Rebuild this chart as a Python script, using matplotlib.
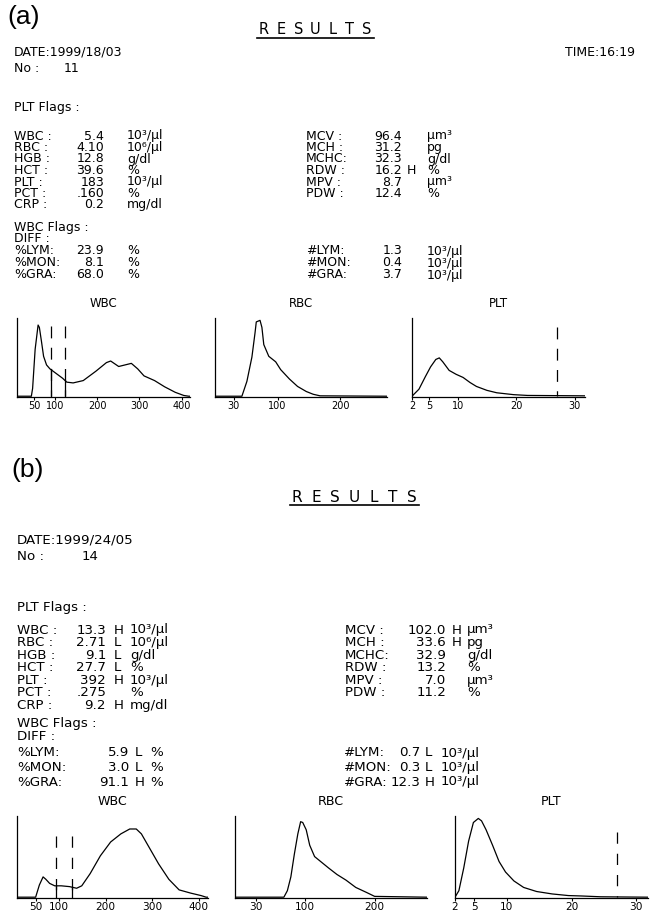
import matplotlib
matplotlib.use("Agg")
import matplotlib.pyplot as plt
from matplotlib.lines import Line2D
import numpy as np

W, H = 651, 911

# ───── report (a) ─────
a_date = "DATE:1999/18/03"
a_time = "TIME:16:19"
a_no = "11"
a_left_names = ["WBC :", "RBC :", "HGB :", "HCT :", "PLT :", "PCT :", "CRP :"]
a_left_values = ["5.4", "4.10", "12.8", "39.6", "183", ".160", "0.2"]
a_left_flags = ["", "", "", "", "", "", ""]
a_left_units = ["10³/µl", "10⁶/µl", "g/dl", "%", "10³/µl", "%", "mg/dl"]
a_right_names = ["MCV :", "MCH :", "MCHC:", "RDW :", "MPV :", "PDW :"]
a_right_values = ["96.4", "31.2", "32.3", "16.2", "8.7", "12.4"]
a_right_flags = ["", "", "", "H", "", ""]
a_right_units = ["µm³", "pg", "g/dl", "%", "µm³", "%"]
a_pct_names = ["%LYM:", "%MON:", "%GRA:"]
a_pct_values = ["23.9", "8.1", "68.0"]
a_pct_flags = ["", "", ""]
a_abs_names = ["#LYM:", "#MON:", "#GRA:"]
a_abs_values = ["1.3", "0.4", "3.7"]
a_abs_flags = ["", "", ""]

a_wbc_fl = [10, 44, 47, 53, 60, 63, 68, 73, 80, 88, 103, 118, 128, 143, 167, 197,
            222, 232, 251, 281, 296, 311, 336, 360, 385, 405, 417, 420]
a_wbc_h = [0, 0, 0.1, 0.6, 0.91, 0.88, 0.7, 0.51, 0.4, 0.35, 0.29, 0.23, 0.18, 0.17,
           0.2, 0.32, 0.43, 0.45, 0.38, 0.42, 0.35, 0.26, 0.2, 0.12, 0.05, 0.01, 0, 0]
a_wbc_gates = [90, 123]
a_rbc_fl = [0, 43, 51, 59, 64, 66, 72, 75, 78, 86, 97, 105, 119, 132, 146, 157, 168, 275]
a_rbc_h = [0, 0, 0.19, 0.5, 0.81, 0.95, 0.97, 0.88, 0.66, 0.51, 0.44, 0.34, 0.22,
           0.125, 0.06, 0.025, 0.005, 0]
a_plt_fl = [2, 3.2, 4.3, 5.2, 6.1, 6.7, 7.3, 8.4, 9.6, 10.8, 12, 13.1, 14.9, 16.6,
            19.5, 21.9, 31.8]
a_plt_h = [0, 0.09, 0.25, 0.375, 0.47, 0.49, 0.44, 0.33, 0.28, 0.24, 0.175, 0.125,
           0.075, 0.044, 0.02, 0.01, 0.005]
a_plt_gates = [27]

# ───── report (b) ─────
b_date = "DATE:1999/24/05"
b_no = "14"
b_left_names = a_left_names
b_left_values = ["13.3", "2.71", "9.1", "27.7", "392", ".275", "9.2"]
b_left_flags = ["H", "L", "L", "L", "H", "", "H"]
b_left_units = a_left_units
b_right_names = a_right_names
b_right_values = ["102.0", "33.6", "32.9", "13.2", "7.0", "11.2"]
b_right_flags = ["H", "H", "", "", "", ""]
b_right_units = a_right_units
b_pct_names = a_pct_names
b_pct_values = ["5.9", "3.0", "91.1"]
b_pct_flags = ["L", "L", "H"]
b_abs_names = a_abs_names
b_abs_values = ["0.7", "0.3", "12.3"]
b_abs_flags = ["L", "L", "H"]

b_wbc_fl = [10, 50, 58, 66, 72, 80, 91, 105, 123, 138, 149, 167, 189, 211, 233, 252,
            266, 277, 292, 314, 336, 358, 383, 405, 416, 420]
b_wbc_h = [0, 0, 0.15, 0.25, 0.22, 0.17, 0.14, 0.14, 0.13, 0.11, 0.14, 0.29, 0.51,
           0.68, 0.78, 0.84, 0.84, 0.78, 0.63, 0.41, 0.22, 0.09, 0.05, 0.02, 0, 0]
b_wbc_gates = [94, 129]
b_rbc_fl = [0, 70, 75, 80, 85, 90, 94, 97, 102, 107, 114, 124, 134, 146, 159, 173,
            188, 200, 275]
b_rbc_h = [0, 0, 0.08, 0.25, 0.53, 0.78, 0.93, 0.92, 0.83, 0.64, 0.5, 0.43, 0.36,
           0.28, 0.21, 0.12, 0.06, 0.01, 0]
b_plt_fl = [2, 2.6, 3.35, 4.1, 4.84, 5.6, 6.1, 6.8, 7.8, 8.8, 9.8, 11.1, 12.6, 14.6,
            17, 19.5, 21.5, 24.5, 31.8]
b_plt_h = [0, 0.08, 0.36, 0.69, 0.92, 0.97, 0.94, 0.83, 0.64, 0.44, 0.31, 0.2, 0.12,
           0.07, 0.04, 0.02, 0.015, 0.005, 0]
b_plt_gates = [27]

wbc_ticks = [50, 100, 200, 300, 400]
rbc_ticks = [30, 100, 200]
plt_ticks = [2, 5, 10, 20, 30]
wbc_lim = (10, 420)
rbc_lim = (0, 275)
plt_lim = (2, 31.8)

FONT = "DejaVu Sans"

fig = plt.figure(figsize=(W / 100, H / 100), dpi=100)
fig.patch.set_facecolor("white")


def put(x, y, s, fs, **kw):
    # x, y in pixels from the top-left corner
    fig.text(x / W, 1 - y / H, s, fontsize=fs, va="center", family=FONT, **kw)


def rows(y0, dy, xs, names, values, flags, units, fs):
    x_name, x_val, x_flag, x_unit = xs
    for i, (n, v, f, u) in enumerate(zip(names, values, flags, units)):
        y = y0 + i * dy
        put(x_name, y, n, fs)
        put(x_val, y, v, fs, ha="right")
        if f:
            put(x_flag, y, f, fs)
        put(x_unit, y, u, fs)


def results_title(x0, x1, y, fs):
    for x, ch in zip(np.linspace(x0 + 7, x1 - 7, 7), "RESULTS"):
        put(x, y, ch, fs, ha="center")
    fig.add_artist(Line2D([x0 / W, x1 / W], [1 - (y + 8) / H] * 2,
                          transform=fig.transFigure, color="black", lw=1.2))


def hist(box, fl, h, xlim, ticks, gates, title, fs, gate_top, dash):
    x0, yt, x1, yb = box
    ax = fig.add_axes([x0 / W, 1 - yb / H, (x1 - x0) / W, (yb - yt) / H])
    ax.plot(fl, h, color="black", lw=0.9)
    for g in gates:
        ax.plot([g, g], [gate_top, 0], color="black", lw=0.9,
                ls=(0, dash))
        ax.plot([g, g], [0, np.interp(g, fl, h)], color="black", lw=0.9)
    ax.set_xlim(*xlim)
    ax.set_ylim(-0.01, 1)
    ax.spines[["top", "right"]].set_visible(False)
    for s in ("left", "bottom"):
        ax.spines[s].set_linewidth(0.9)
    ax.set_yticks([])
    ax.set_xticks(ticks)
    ax.set_xticklabels([str(t) for t in ticks], family=FONT)
    ax.tick_params(axis="x", direction="out", length=2.5, width=0.8,
                   pad=0.5, labelsize=fs - 2)
    ax.set_title(title, fontsize=fs - 0.5, family=FONT, pad=8)
    ax.set_facecolor("none")
    return ax


# ───── panel (a) ─────
fa = 9
fig.text(7 / W, 1 - 17 / H, "(a)", fontsize=19, family="Liberation Sans", va="center")
results_title(257, 374, 30, 10.5)
put(14, 52, a_date, fa)
put(635, 52, a_time, fa, ha="right")
put(14, 68, "No :", fa)
put(79, 68, a_no, fa, ha="right")
put(14, 108, "PLT Flags :", fa)
rows(136, 11.5, (14, 104, 108, 127), a_left_names, a_left_values, a_left_flags, a_left_units, fa)
rows(136, 11.5, (306, 402, 407, 427), a_right_names, a_right_values, a_right_flags, a_right_units, fa)
put(14, 227, "WBC Flags :", fa)
put(14, 239, "DIFF :", fa)
rows(251, 12, (14, 104, 108, 127), a_pct_names, a_pct_values, a_pct_flags, ["%"] * 3, fa)
rows(251, 12, (306, 402, 407, 427), a_abs_names, a_abs_values, a_abs_flags, ["10³/µl"] * 3, fa)

hist((17, 318, 190, 397), a_wbc_fl, a_wbc_h, wbc_lim, wbc_ticks, a_wbc_gates, "WBC", fa, 0.9, (9.5, 7.5))
hist((215, 318, 387, 397), a_rbc_fl, a_rbc_h, rbc_lim, rbc_ticks, [], "RBC", fa, 0.9, (9.5, 7.5))
hist((412, 318, 585, 397), a_plt_fl, a_plt_h, plt_lim, plt_ticks, a_plt_gates, "PLT", fa, 0.88, (9.5, 7.5))

# ───── panel (b) ─────
fb = 9.6
fig.text(11 / W, 1 - 470 / H, "(b)", fontsize=19, family="Liberation Sans", va="center")
results_title(290, 419, 497, 11)
put(17, 540, b_date, fb)
put(17, 556, "No :", fb)
put(98, 556, b_no, fb, ha="right")
put(17, 607, "PLT Flags :", fb)
rows(630, 12.6, (17, 106, 114, 130), b_left_names, b_left_values, b_left_flags, b_left_units, fb)
rows(630, 12.6, (345, 446, 452, 467), b_right_names, b_right_values, b_right_flags, b_right_units, fb)
put(17, 723, "WBC Flags :", fb)
put(17, 737, "DIFF :", fb)
rows(753, 14.5, (17, 129, 135, 150), b_pct_names, b_pct_values, b_pct_flags, ["%"] * 3, fb)
rows(753, 14.5, (344, 420, 425, 441), b_abs_names, b_abs_values, b_abs_flags, ["10³/µl"] * 3, fb)

hist((17, 816, 208, 898), b_wbc_fl, b_wbc_h, wbc_lim, wbc_ticks, b_wbc_gates, "WBC", fb, 0.75, (9, 8))
hist((235, 816, 427, 898), b_rbc_fl, b_rbc_h, rbc_lim, rbc_ticks, [], "RBC", fb, 0.75, (9, 8))
hist((455, 816, 648, 898), b_plt_fl, b_plt_h, plt_lim, plt_ticks, b_plt_gates, "PLT", fb, 0.8, (9, 8))

fig.savefig("out.png", dpi=100, facecolor="white")
